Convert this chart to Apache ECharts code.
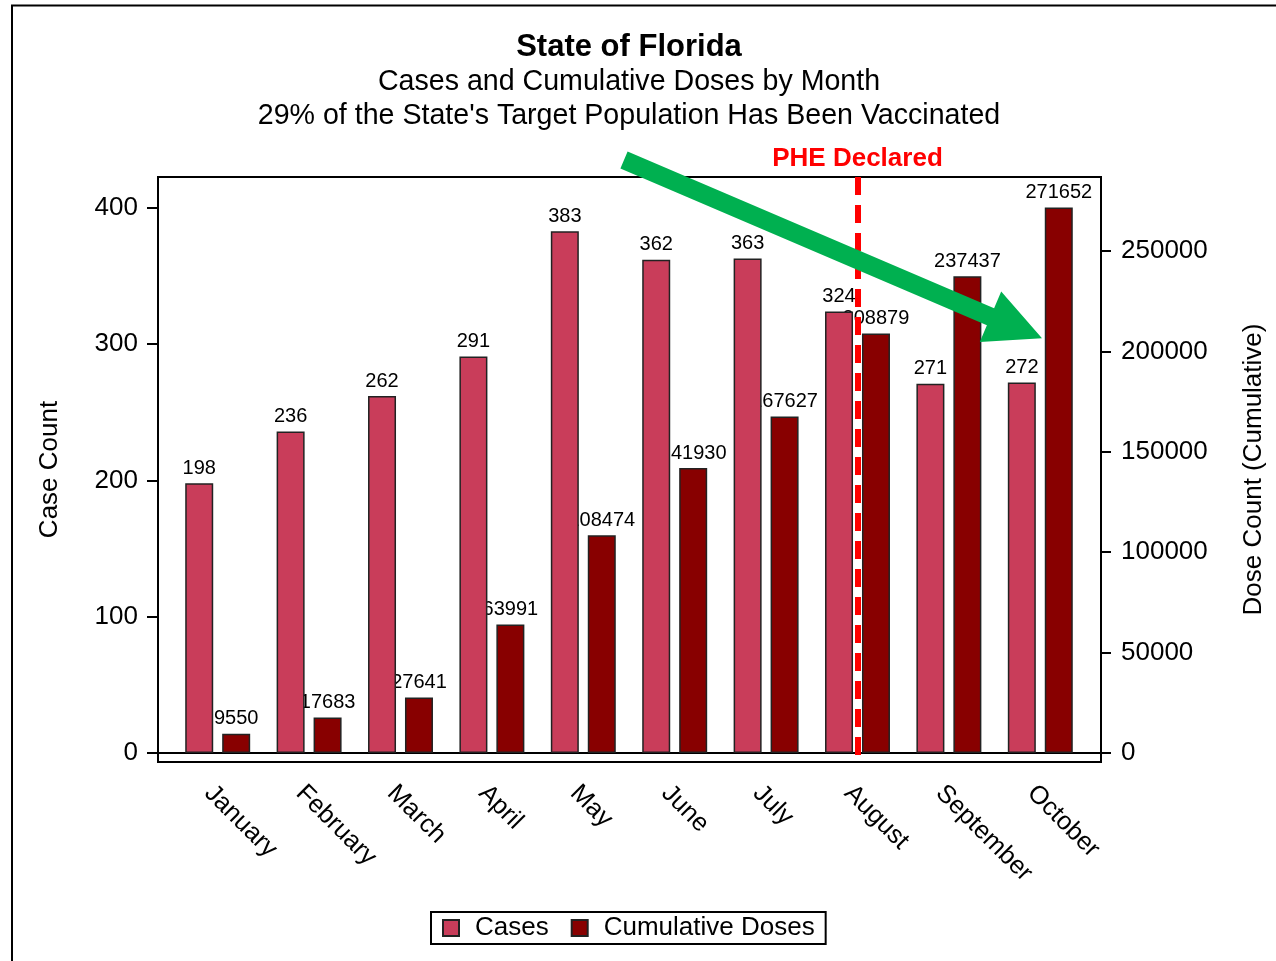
<!DOCTYPE html>
<html>
<head>
<meta charset="utf-8">
<title>State of Florida</title>
<script src="https://cdn.jsdelivr.net/npm/echarts@6/dist/echarts.min.js"></script>
<style>
  html, body { margin: 0; padding: 0; background: #fff; }
  #main { width: 1276px; height: 961px; }
</style>
</head>
<body>
<div id="main"></div>
<script>
const months = ['January', 'February', 'March', 'April', 'May', 'June', 'July', 'August', 'September', 'October'];
const cases = [198, 236, 262, 291, 383, 362, 363, 324, 271, 272];
const doses = [9550, 17683, 27641, 63991, 108474, 141930, 167627, 208879, 237437, 271652];
const caseTicks = [0, 100, 200, 300, 400];
const doseTicks = [0, 50000, 100000, 150000, 200000, 250000];
const pheMonth = 'August';

const font = "'Liberation Sans', Arial, sans-serif";
const caseColor = '#C93D5A';
const doseColor = '#880000';

// axis ranges chosen so 0 sits a little above the frame bottom, like the original
const caseMin = -6.6, caseMax = 422.75;
const doseMin = -4482, doseMax = 286853;

const chart = echarts.init(document.getElementById('main'));

// arrow pointing at the October doses bar
const arrow = [
  [627.6, 151.5], [994.1, 308.2], [1001.2, 291.5], [1042, 338.3],
  [979.8, 341.9], [986.9, 325.2], [620.4, 168.5]
];

let option = {
  backgroundColor: '#fff',
  animation: false,
  textStyle: { fontFamily: font, color: '#000' },
  title: [
    { text: 'State of Florida', left: 624, textAlign: 'center', top: 27,
      textStyle: { fontSize: 31, fontWeight: 'bold', fontFamily: font, color: '#000' } },
    { text: 'Cases and Cumulative Doses by Month', left: 624, textAlign: 'center', top: 63,
      textStyle: { fontSize: 28.6, fontWeight: 'normal', fontFamily: font, color: '#000' } },
    { text: "29% of the State's Target Population Has Been Vaccinated", left: 624, textAlign: 'center', top: 97,
      textStyle: { fontSize: 28.6, fontWeight: 'normal', fontFamily: font, color: '#000' } }
  ],
  legend: {
    bottom: 17,
    left: 431,
    data: ['Cases', 'Cumulative Doses'],
    icon: 'rect',
    itemWidth: 16,
    itemHeight: 16,
    itemGap: 22,
    padding: [3, 11],
    borderColor: '#000',
    borderWidth: 2,
    textStyle: { fontSize: 26, fontFamily: font, color: '#000', padding: [0, 0, 0, 11] }
  },
  grid: [
    { left: 158, right: 175, top: 177, bottom: 199, show: true,
      borderColor: '#000', borderWidth: 2, backgroundColor: 'transparent' },
    { left: 172, right: 190, top: 177, bottom: 199 }
  ],
  xAxis: [
    { gridIndex: 0, type: 'value', min: 0, max: 1,
      axisLine: { show: true, onZero: true, lineStyle: { color: '#000', width: 2 } },
      axisTick: { show: false }, axisLabel: { show: false }, splitLine: { show: false } },
    { gridIndex: 1, type: 'category', data: months,
      axisLine: { show: false }, axisTick: { show: false },
      axisLabel: { rotate: -45, margin: 18, verticalAlign: 'top', fontSize: 25.5, fontFamily: font, color: '#000', interval: 0 } }
  ],
  yAxis: [
    { gridIndex: 0, type: 'value', min: caseMin, max: caseMax,
      name: 'Case Count', nameLocation: 'middle', nameGap: 95, nameRotate: 90,
      nameTextStyle: { fontSize: 26, fontFamily: font, color: '#000' },
      axisLine: { show: true, lineStyle: { color: '#000', width: 2 } },
      axisTick: { show: true, length: 11, customValues: caseTicks, lineStyle: { color: '#000', width: 2 } },
      axisLabel: { customValues: caseTicks, margin: 20, fontSize: 26, fontFamily: font, color: '#000',
        formatter: v => String(v) },
      splitLine: { show: false } },
    { gridIndex: 0, type: 'value', min: doseMin, max: doseMax, position: 'right',
      name: 'Dose Count (Cumulative)', nameLocation: 'middle', nameGap: 140, nameRotate: 90,
      nameTextStyle: { fontSize: 26, fontFamily: font, color: '#000' },
      axisLine: { show: true, lineStyle: { color: '#000', width: 2 } },
      axisTick: { show: true, length: 10, customValues: doseTicks, lineStyle: { color: '#000', width: 2 } },
      axisLabel: { customValues: doseTicks, margin: 20, fontSize: 26, fontFamily: font, color: '#000',
        formatter: v => String(v) },
      splitLine: { show: false } },
    { gridIndex: 1, type: 'value', min: caseMin, max: caseMax, show: false },
    { gridIndex: 1, type: 'value', min: doseMin, max: doseMax, show: false }
  ],
  series: [
    {
      name: 'Cases', type: 'bar', xAxisIndex: 1, yAxisIndex: 2,
      data: cases, barWidth: 28, barGap: '32%', z: 4,
      itemStyle: { color: caseColor, borderColor: '#222', borderWidth: 1.5 },
      label: { show: true, position: 'top', distance: 5, fontSize: 20, fontFamily: font, color: '#000' }
    },
    {
      name: 'Cumulative Doses', type: 'bar', xAxisIndex: 1, yAxisIndex: 3,
      data: doses, barWidth: 28, barGap: '32%', z: 2,
      itemStyle: { color: doseColor, borderColor: '#222', borderWidth: 1.5 },
      label: { show: true, position: 'top', distance: 5, fontSize: 20, fontFamily: font, color: '#000' }
    },
    {
      // holder for the PHE reference line, centred on the month
      name: 'PHE', type: 'line', xAxisIndex: 1, yAxisIndex: 2, data: [], z: 6,
      markLine: {
        silent: true, symbol: 'none',
        lineStyle: { color: '#ff0000', width: 6, type: [18, 10] },
        label: { show: true, position: 'start', distance: 5, formatter: 'PHE Declared',
          color: '#ff0000', fontSize: 26, fontWeight: 'bold', fontFamily: font },
        data: [[{ xAxis: pheMonth, yAxis: caseMax }, { xAxis: pheMonth, yAxis: caseMin }]]
      }
    }
  ],
  graphic: [
    { type: 'rect', shape: { x: 12, y: 5.5, width: 1400, height: 1100 },
      style: { fill: 'none', stroke: '#000', lineWidth: 2 }, z: 100, silent: true },
    { type: 'polygon', shape: { points: arrow },
      style: { fill: '#00B050' }, z: 100, silent: true }
  ]
};

chart.setOption(option);
</script>
</body>
</html>
